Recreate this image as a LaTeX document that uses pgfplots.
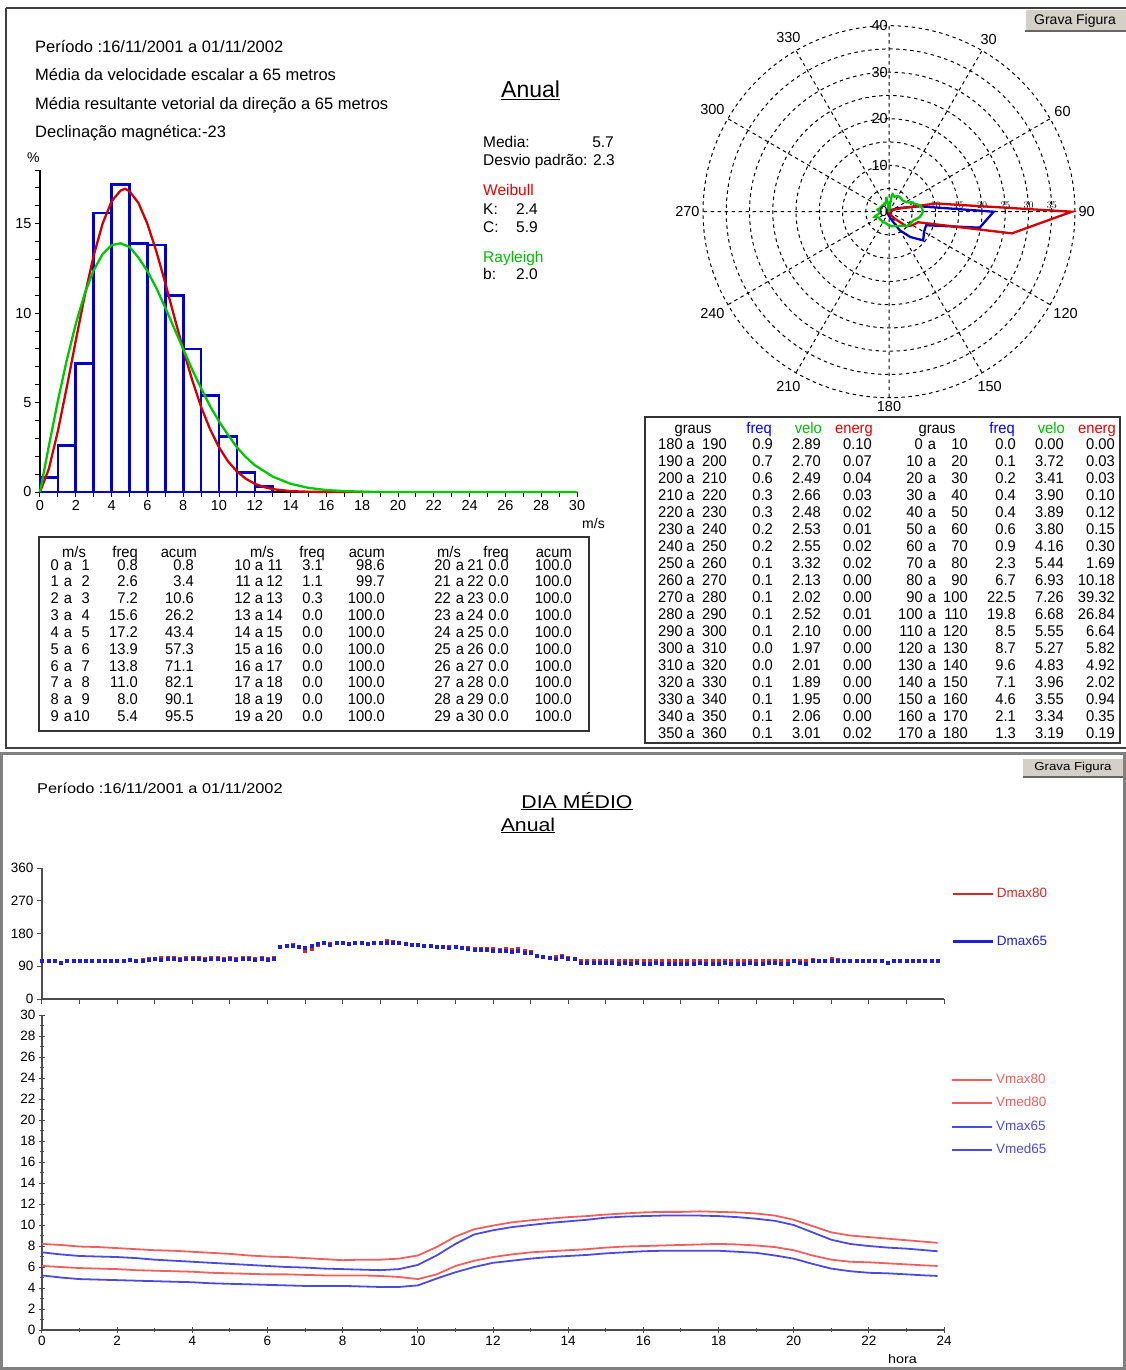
\documentclass[border=0pt]{standalone}
\usepackage{fontspec}
\setmainfont{Liberation Sans}
\newfontfamily\widefont[FakeStretch=1.15]{Liberation Sans}
\newfontfamily\tabfont[FakeStretch=0.95]{Liberation Sans}
\usepackage{pgfplots}
\usepackage{pgfplotstable}
\pgfplotsset{compat=1.18}
\usepgfplotslibrary{polar}

\definecolor{hblue}{RGB}{0,0,200}
\definecolor{hred}{RGB}{210,0,0}
\definecolor{hgreen}{RGB}{0,200,0}
\definecolor{tblue}{RGB}{0,0,255}
\definecolor{tgreen}{RGB}{0,190,0}
\definecolor{tred}{RGB}{235,0,0}
\definecolor{dred}{RGB}{215,40,40}
\definecolor{dblue}{RGB}{30,30,215}
\definecolor{lred}{RGB}{240,95,95}
\definecolor{lblue}{RGB}{75,75,225}
\definecolor{btn}{RGB}{212,208,200}

\newcommand{\fs}[1]{\fontsize{#1}{#1}\selectfont}

% direction of the day, every 10 minutes (Dmax80, Dmax65)
\pgfplotstableread[row sep=\\]{
d80 d65\\
106 106\\ 104 104\\ 106 106\\ 101 101\\ 106 106\\ 105 105\\
106 106\\ 106 106\\ 104 104\\ 106 106\\ 106 106\\ 105 105\\
106 106\\ 106 106\\ 108 108\\ 106 106\\ 108 106\\ 110 108\\
112 110\\ 114 108\\ 114 110\\ 114 110\\ 112 108\\ 114 110\\
114 110\\ 114 110\\ 112 108\\ 114 110\\ 114 110\\ 112 108\\
114 110\\ 112 108\\ 114 110\\ 114 110\\ 112 108\\ 114 110\\
112 108\\ 114 110\\ 145 145\\ 146 146\\ 148 146\\ 145 145\\
134 140\\ 138 146\\ 150 152\\ 155 155\\ 152 150\\ 154 154\\
155 155\\ 153 152\\ 156 155\\ 154 154\\ 153 152\\ 155 155\\
156 155\\ 160 156\\ 158 154\\ 156 156\\ 152 152\\ 150 150\\
148 148\\ 147 146\\ 146 146\\ 145 145\\ 144 144\\ 143 142\\
145 145\\ 141 140\\ 140 138\\ 138 136\\ 138 136\\ 137 135\\
138 134\\ 136 132\\ 138 134\\ 136 130\\ 138 134\\ 132 128\\
130 126\\ 120 118\\ 115 115\\ 114 114\\ 116 112\\ 118 116\\
114 112\\ 110 110\\ 106 100\\ 106 100\\ 106 100\\ 106 100\\
104 100\\ 106 100\\ 104 98\\ 106 100\\ 104 98\\ 106 100\\
104 98\\ 104 98\\ 106 100\\ 104 98\\ 104 98\\ 106 98\\
106 98\\ 104 98\\ 104 98\\ 106 100\\ 104 98\\ 104 98\\
104 98\\ 106 100\\ 104 98\\ 104 98\\ 106 98\\ 104 100\\
104 98\\ 104 98\\ 106 100\\ 106 100\\ 104 98\\ 104 98\\
106 104\\ 104 100\\ 104 98\\ 108 106\\ 106 106\\ 106 104\\
112 106\\ 108 106\\ 106 106\\ 106 104\\ 106 106\\ 106 106\\
106 106\\ 104 104\\ 106 106\\ 100 100\\ 106 106\\ 106 106\\
106 106\\ 106 106\\ 106 106\\ 106 106\\ 106 106\\ 106 106\\
}\dirtab

\begin{document}
\begin{tikzpicture}
\path[use as bounding box] (0pt,0pt) rectangle (1126pt,-1370pt);

\begin{scope}[x=1pt,y=-1pt]
% panels
\draw[black!75, line width=2pt] (6,8) -- (1130,8);
\draw[black!75, line width=2pt] (6,8) -- (6,748) -- (1130,748);
\draw[black!50, line width=3pt] (1.5,753.5) rectangle (1124.5,1368.5);
% buttons
\fill[btn] (1025,10) rectangle (1126,31);
\draw[white, line width=1pt] (1025,31) -- (1025,10) -- (1126,10);
\draw[black!60, line width=1.5pt] (1025,31) -- (1126,31);
\node[font=\fs{14}, inner sep=0pt] at (1075,20.5) {Grava Figura};
\fill[btn] (1023,759) rectangle (1123,777);
\draw[black!60, line width=1.5pt] (1023,777) -- (1123,777);
\node[font=\widefont\fs{11.5}, inner sep=0pt] at (1073,768) {Grava Figura};

% top left text
\begin{scope}[every node/.style={anchor=base west, inner sep=0pt, font=\fs{16.5}}]
\node at (35,53) {Período :16/11/2001 a 01/11/2002};
\node at (35,81) {Média da velocidade escalar a 65 metros};
\node at (35,110) {Média resultante vetorial da direção a 65 metros};
\node at (35,138) {Declinação magnética:-23};
\end{scope}
\node[anchor=base west, inner sep=0pt, font=\fs{14}] at (27,162) {\%};
\node[anchor=base west, inner sep=0pt, font=\fs{23}] at (501,98) {\underline{Anual}};
\begin{scope}[every node/.style={anchor=base west, inner sep=0pt, font=\fs{15.5}}]
\node at (483,147) {Media:};
\node[anchor=base east] at (614,147) {5.7};
\node at (483,165) {Desvio padrão: 2.3};
\node[text=tred] at (483,195.5) {Weibull};
\node at (483,214) {K:};
\node at (516,214) {2.4};
\node at (483,232) {C:};
\node at (516,232) {5.9};
\node[text=tgreen] at (483,262) {Rayleigh};
\node at (483,279) {b:};
\node at (516,279) {2.0};
\end{scope}
\node[anchor=base west, inner sep=0pt, font=\fs{14}] at (582,528) {m/s};

% speed table
\draw[black!80, line width=1.5pt] (39,537) rectangle (589,731);
\begin{scope}[every node/.style={inner sep=0pt, font=\tabfont\fs{15.5}}]
\foreach \mx/\fx/\ax in {74/138/197, 262/325/385, 449/509/572} {
  \node[anchor=base] at (\mx,557) {m/s};
  \node[anchor=base east] at (\fx,557) {freq};
  \node[anchor=base east] at (\ax,557) {acum};
}
\foreach \a/\b/\f/\c [count=\i from 0] in {0/1/0.8/0.8, 1/2/2.6/3.4, 2/3/7.2/10.6, 3/4/15.6/26.2, 4/5/17.2/43.4, 5/6/13.9/57.3, 6/7/13.8/71.1, 7/8/11.0/82.1, 8/9/8.0/90.1, 9/10/5.4/95.5} {
  \pgfmathsetmacro\yy{570+16.85*\i}
  \node[anchor=base east] at (59,\yy) {\a};
  \node[anchor=base] at (68,\yy) {a};
  \node[anchor=base east] at (90,\yy) {\b};
  \node[anchor=base east] at (138,\yy) {\f};
  \node[anchor=base east] at (194,\yy) {\c};
}
\foreach \a/\b/\f/\c [count=\i from 0] in {10/11/3.1/98.6, 11/12/1.1/99.7, 12/13/0.3/100.0, 13/14/0.0/100.0, 14/15/0.0/100.0, 15/16/0.0/100.0, 16/17/0.0/100.0, 17/18/0.0/100.0, 18/19/0.0/100.0, 19/20/0.0/100.0} {
  \pgfmathsetmacro\yy{570+16.85*\i}
  \node[anchor=base east] at (251,\yy) {\a};
  \node[anchor=base] at (259,\yy) {a};
  \node[anchor=base east] at (283,\yy) {\b};
  \node[anchor=base east] at (323,\yy) {\f};
  \node[anchor=base east] at (385,\yy) {\c};
}
\foreach \a/\b [count=\i from 0] in {20/21, 21/22, 22/23, 23/24, 24/25, 25/26, 26/27, 27/28, 28/29, 29/30} {
  \pgfmathsetmacro\yy{570+16.85*\i}
  \node[anchor=base east] at (451,\yy) {\a};
  \node[anchor=base] at (460,\yy) {a};
  \node[anchor=base east] at (484,\yy) {\b};
  \node[anchor=base east] at (509,\yy) {0.0};
  \node[anchor=base east] at (572,\yy) {100.0};
}
\end{scope}

% direction table
\draw[black!80, line width=2pt] (645,417.3) rectangle (1120,743.3);
\begin{scope}[every node/.style={inner sep=0pt, font=\tabfont\fs{15.5}}]
\foreach \gx/\fx/\vx/\ex in {693/772/822/873, 937/1015/1065/1116} {
  \node[anchor=base] at (\gx,433.5) {graus};
  \node[anchor=base east, text=tblue] at (\fx,433.5) {freq};
  \node[anchor=base east, text=tgreen] at (\vx,433.5) {velo};
  \node[anchor=base east, text=tred] at (\ex,433.5) {energ};
}
\foreach \a/\b/\f/\v/\e [count=\i from 0] in {180/190/0.9/2.89/0.10, 190/200/0.7/2.70/0.07, 200/210/0.6/2.49/0.04, 210/220/0.3/2.66/0.03, 220/230/0.3/2.48/0.02, 230/240/0.2/2.53/0.01, 240/250/0.2/2.55/0.02, 250/260/0.1/3.32/0.02, 260/270/0.1/2.13/0.00, 270/280/0.1/2.02/0.00, 280/290/0.1/2.52/0.01, 290/300/0.1/2.10/0.00, 300/310/0.0/1.97/0.00, 310/320/0.0/2.01/0.00, 320/330/0.1/1.89/0.00, 330/340/0.1/1.95/0.00, 340/350/0.1/2.06/0.00, 350/360/0.1/3.01/0.02} {
  \pgfmathsetmacro\yy{449.3+17.02*\i}
  \node[anchor=base east] at (683,\yy) {\a};
  \node[anchor=base] at (690.5,\yy) {a};
  \node[anchor=base east] at (727,\yy) {\b};
  \node[anchor=base east] at (773,\yy) {\f};
  \node[anchor=base east] at (821,\yy) {\v};
  \node[anchor=base east] at (872,\yy) {\e};
}
\foreach \a/\b/\f/\v/\e [count=\i from 0] in {0/10/0.0/0.00/0.00, 10/20/0.1/3.72/0.03, 20/30/0.2/3.41/0.03, 30/40/0.4/3.90/0.10, 40/50/0.4/3.89/0.12, 50/60/0.6/3.80/0.15, 60/70/0.9/4.16/0.30, 70/80/2.3/5.44/1.69, 80/90/6.7/6.93/10.18, 90/100/22.5/7.26/39.32, 100/110/19.8/6.68/26.84, 110/120/8.5/5.55/6.64, 120/130/8.7/5.27/5.82, 130/140/9.6/4.83/4.92, 140/150/7.1/3.96/2.02, 150/160/4.6/3.55/0.94, 160/170/2.1/3.34/0.35, 170/180/1.3/3.19/0.19} {
  \pgfmathsetmacro\yy{449.3+17.02*\i}
  \node[anchor=base east] at (923,\yy) {\a};
  \node[anchor=base] at (932,\yy) {a};
  \node[anchor=base east] at (968,\yy) {\b};
  \node[anchor=base east] at (1016,\yy) {\f};
  \node[anchor=base east] at (1064,\yy) {\v};
  \node[anchor=base east] at (1115,\yy) {\e};
}
\end{scope}

% bottom panel titles
\node[anchor=base west, inner sep=0pt, font=\widefont\fs{14.2}] at (37,793) {Período :16/11/2001 a 01/11/2002};
\node[anchor=base, inner sep=0pt, font=\widefont\fs{18.5}] at (577,808) {\underline{DIA MÉDIO}};
\node[anchor=base, inner sep=0pt, font=\widefont\fs{18.5}] at (528,831) {\underline{Anual}};
\node[anchor=base west, inner sep=0pt, font=\widefont\fs{12.5}] at (888,1363) {hora};
\end{scope}

% histogram
\begin{axis}[
  at={(40pt,-492pt)}, anchor=south west,
  scale only axis, width=537pt, height=322pt,
  xmin=0, xmax=30, ymin=0, ymax=18,
  axis x line=bottom, axis y line=left,
  axis line style={-, black, line width=1.2pt},
  xtick={0,2,...,30}, minor xtick={1,3,...,29},
  ytick={0,5,10,15}, minor ytick={1,2,3,4,6,7,8,9,11,12,13,14,16,17,18},
  tick align=outside, major tick length=5pt, minor tick length=5pt,
  tick style={black, line width=1pt},
  tick label style={font=\fs{14.5}},
  /pgf/number format/assume math mode=true,
  clip=false,
]
\addplot[ybar interval, draw=hblue, line width=2.6pt, fill=none] coordinates {(0,0.8) (1,2.6) (2,7.2) (3,15.6) (4,17.2) (5,13.9) (6,13.8) (7,11.0) (8,8.0) (9,5.4) (10,3.1) (11,1.1) (12,0.3) (13,0)};
\addplot[hred, line width=2.3pt] coordinates {(0,0) (0.5,1.31) (1,3.41) (1.5,5.88) (2,8.47) (2.5,10.98) (3,13.22) (3.5,15.01) (4,16.25) (4.5,16.85) (4.75,16.95) (5,16.81) (5.5,16.16) (6,14.99) (6.5,13.45) (7,11.68) (7.5,9.80) (8,7.97) (8.5,6.26) (9,4.76) (9.5,3.51) (10,2.50) (10.5,1.72) (11,1.15) (11.5,0.74) (12,0.46) (12.5,0.28) (13,0.16) (14,0.05) (15,0.013) (16,0.003) (18.4,0)};
\addplot[hgreen, line width=2.3pt] coordinates {(0,0) (0.5,2.6) (1,5.1) (1.5,7.4) (2,9.4) (2.5,11.1) (3,12.4) (3.5,13.3) (4,13.8) (4.5,13.9) (5,13.7) (5.5,13.1) (6,12.35) (6.5,11.4) (7,10.3) (7.5,9.15) (8,8.0) (8.5,6.85) (9,5.8) (9.5,4.8) (10,3.95) (10.5,3.2) (11,2.5) (11.5,1.95) (12,1.5) (13,0.86) (14,0.46) (15,0.23) (16,0.11) (17,0.05) (18,0.02) (19,0.005) (20,0) (30,0)};
\end{axis}

% wind rose
\begin{polaraxis}[
  at={(889pt,-211.7pt)}, anchor=center,
  scale only axis, width=372pt, height=372pt,
  xmin=0, xmax=360, ymin=0, ymax=40,
  xtick={0,30,...,330},
  xticklabels={90,60,30,{},330,300,270,240,210,180,150,120},
  ytick={5,10,...,35}, yticklabel={},
  grid=major,
  major grid style={black, dash pattern=on 3.5pt off 3.5pt, line width=1pt},
  axis line style={black, dash pattern=on 3.5pt off 3.5pt, line width=1pt},
  tick style={draw=none},
  xticklabel style={font=\fs{14.5}},
  clip=false,
]
\addplot[hblue, line width=2.3pt] table[x expr={90-\thisrowno{0}}, y index=1, row sep=\\] {0 0.0\\ 10 0.1\\ 20 0.2\\ 30 0.4\\ 40 0.4\\ 50 0.6\\ 60 0.9\\ 70 2.3\\ 80 6.7\\ 90 22.5\\ 100 19.8\\ 110 8.5\\ 120 8.7\\ 130 9.6\\ 140 7.1\\ 150 4.6\\ 160 2.1\\ 170 1.3\\ 180 0.9\\ 190 0.7\\ 200 0.6\\ 210 0.3\\ 220 0.3\\ 230 0.2\\ 240 0.2\\ 250 0.1\\ 260 0.1\\ 270 0.1\\ 280 0.1\\ 290 0.1\\ 300 0.0\\ 310 0.0\\ 320 0.1\\ 330 0.1\\ 340 0.1\\ 350 0.1\\ 360 0.0\\};
\addplot[hred, line width=2.3pt] table[x expr={90-\thisrowno{0}}, y index=1, row sep=\\] {0 0.00\\ 10 0.03\\ 20 0.03\\ 30 0.10\\ 40 0.12\\ 50 0.15\\ 60 0.30\\ 70 1.69\\ 80 10.18\\ 90 39.32\\ 100 26.84\\ 110 6.64\\ 120 5.82\\ 130 4.92\\ 140 2.02\\ 150 0.94\\ 160 0.35\\ 170 0.19\\ 180 0.10\\ 190 0.07\\ 200 0.04\\ 210 0.03\\ 220 0.02\\ 230 0.01\\ 240 0.02\\ 250 0.02\\ 260 0.00\\ 270 0.00\\ 280 0.01\\ 290 0.00\\ 300 0.00\\ 310 0.00\\ 320 0.00\\ 330 0.00\\ 340 0.00\\ 350 0.02\\ 360 0.00\\};
\addplot[hgreen, line width=2.3pt, smooth] table[x expr={90-\thisrowno{0}}, y index=1, row sep=\\] {0 0.00\\ 10 3.72\\ 20 3.41\\ 30 3.90\\ 40 3.89\\ 50 3.80\\ 60 4.16\\ 70 5.44\\ 80 6.93\\ 90 7.26\\ 100 6.68\\ 110 5.55\\ 120 5.27\\ 130 4.83\\ 140 3.96\\ 150 3.55\\ 160 3.34\\ 170 3.19\\ 180 2.89\\ 190 2.70\\ 200 2.49\\ 210 2.66\\ 220 2.48\\ 230 2.53\\ 240 2.55\\ 250 3.32\\ 260 2.13\\ 270 2.02\\ 280 2.52\\ 290 2.10\\ 300 1.97\\ 310 2.01\\ 320 1.89\\ 330 1.95\\ 340 2.06\\ 350 3.01\\ 360 0.00\\};
\node[anchor=east, inner sep=1pt, font=\fs{14.5}] at (axis cs:90,40) {40};
\node[anchor=east, inner sep=1pt, font=\fs{14.5}] at (axis cs:90,30) {30};
\node[anchor=east, inner sep=1pt, font=\fs{14.5}] at (axis cs:90,20) {20};
\node[anchor=east, inner sep=1pt, font=\fs{14.5}] at (axis cs:90,10) {10};
\node[anchor=east, inner sep=1pt, font=\fs{14.5}] at (axis cs:90,0) {0};
\end{polaraxis}

% mean day: direction
\begin{axis}[
  at={(42pt,-999pt)}, anchor=south west,
  scale only axis, width=902pt, height=131pt,
  xmin=0, xmax=24, ymin=0, ymax=360,
  axis x line=bottom, axis y line=left,
  axis line style={-, black!70, line width=1.6pt},
  xtick={0,1,...,24}, xticklabels={},
  ytick={0,90,180,270,360},
  tick align=outside, major tick length=5pt,
  tick style={black!70, line width=1pt},
  tick label style={font=\fs{13.5}},
  /pgf/number format/assume math mode=true,
  clip=false,
  legend style={at={(1.0078,0.619)}, anchor=west, draw=none, fill=none,
    inner sep=0pt, row sep=34.7pt, font=\fs{13.5},
    nodes={inner sep=0pt, text height=10pt, text depth=3pt}},
  legend cell align=left,
]
\addplot[only marks, mark=square*, mark size=1.5pt, color=dred,
  legend image code/.code={\draw[dred, line width=2.6pt] (0pt,0pt) -- (40pt,0pt);}]
  table[x expr=\coordindex/6, y=d80] {\dirtab};
\addlegendentry{\hspace{3pt}\textcolor{dred}{Dmax80}}
\addplot[only marks, mark=square*, mark size=1.5pt, color=dblue,
  legend image code/.code={\draw[dblue, line width=2.6pt] (0pt,0pt) -- (40pt,0pt);}]
  table[x expr=\coordindex/6, y=d65] {\dirtab};
\addlegendentry{\hspace{3pt}\textcolor{dblue}{Dmax65}}
\end{axis}

% mean day: speed
\begin{axis}[
  at={(42pt,-1330pt)}, anchor=south west,
  scale only axis, width=902pt, height=315pt,
  xmin=0, xmax=24, ymin=0, ymax=30,
  axis x line=bottom, axis y line=left,
  axis line style={-, black!70, line width=1.6pt},
  xtick={0,2,...,24}, minor xtick={1,3,...,23},
  ytick={0,2,...,30}, minor ytick={1,3,...,29},
  tick align=center, major tick length=6pt, minor tick length=4pt,
  tick style={black!70, line width=1pt},
  tick label style={font=\fs{13.5}},
  /pgf/number format/assume math mode=true,
  clip=false,
  legend style={at={(1.0078,0.6825)}, anchor=west, draw=none, fill=none,
    inner sep=0pt, row sep=10.3pt, font=\fs{13.5},
    nodes={inner sep=0pt, text height=10pt, text depth=3pt}},
  legend cell align=left,
]
\addplot[lred, line width=1.8pt,
  legend image code/.code={\draw[lred, line width=1.8pt] (0pt,0pt) -- (40pt,0pt);}]
  coordinates {(0,8.2) (0.5,8.1) (1,7.95) (1.5,7.9) (2,7.8) (2.5,7.7) (3,7.6) (3.5,7.55) (4,7.45) (4.5,7.35) (5,7.25) (5.5,7.1) (6,7.0) (6.5,6.95) (7,6.85) (7.5,6.75) (8,6.65) (8.5,6.7) (9,6.7) (9.5,6.8) (10,7.1) (10.5,7.9) (11,8.9) (11.5,9.6) (12,9.95) (12.5,10.25) (13,10.45) (13.5,10.6) (14,10.75) (14.5,10.85) (15,11.0) (15.5,11.1) (16,11.2) (16.5,11.25) (17,11.25) (17.5,11.3) (18,11.25) (18.5,11.2) (19,11.1) (19.5,10.9) (20,10.5) (20.5,9.9) (21,9.3) (21.5,9.0) (22,8.85) (22.5,8.7) (23,8.55) (23.5,8.4) (23.83,8.3)};
\addlegendentry{\hspace{3pt}\textcolor{lred}{Vmax80}}
\addplot[lred, line width=1.8pt,
  legend image code/.code={\draw[lred, line width=1.8pt] (0pt,0pt) -- (40pt,0pt);}]
  coordinates {(0,6.1) (0.5,6.0) (1,5.9) (1.5,5.85) (2,5.8) (2.5,5.7) (3,5.65) (3.5,5.6) (4,5.55) (4.5,5.45) (5,5.4) (5.5,5.35) (6,5.3) (6.5,5.3) (7,5.25) (7.5,5.2) (8,5.2) (8.5,5.2) (9,5.15) (9.5,5.05) (10,4.85) (10.5,5.3) (11,6.1) (11.5,6.6) (12,6.95) (12.5,7.2) (13,7.4) (13.5,7.5) (14,7.6) (14.5,7.7) (15,7.85) (15.5,7.95) (16,8.0) (16.5,8.05) (17,8.1) (17.5,8.15) (18,8.2) (18.5,8.15) (19,8.05) (19.5,7.9) (20,7.6) (20.5,7.1) (21,6.7) (21.5,6.5) (22,6.45) (22.5,6.35) (23,6.25) (23.5,6.15) (23.83,6.1)};
\addlegendentry{\hspace{3pt}\textcolor{lred}{Vmed80}}
\addplot[lblue, line width=1.8pt,
  legend image code/.code={\draw[lblue, line width=1.8pt] (0pt,0pt) -- (40pt,0pt);}]
  coordinates {(0,7.4) (0.5,7.2) (1,7.05) (1.5,7.0) (2,6.95) (2.5,6.85) (3,6.7) (3.5,6.6) (4,6.5) (4.5,6.4) (5,6.3) (5.5,6.2) (6,6.1) (6.5,6.0) (7,5.95) (7.5,5.85) (8,5.8) (8.5,5.75) (9,5.7) (9.5,5.8) (10,6.2) (10.5,7.1) (11,8.2) (11.5,9.1) (12,9.5) (12.5,9.8) (13,10.0) (13.5,10.2) (14,10.35) (14.5,10.5) (15,10.7) (15.5,10.8) (16,10.85) (16.5,10.9) (17,10.9) (17.5,10.9) (18,10.85) (18.5,10.75) (19,10.6) (19.5,10.4) (20,10.0) (20.5,9.3) (21,8.6) (21.5,8.2) (22,8.0) (22.5,7.85) (23,7.75) (23.5,7.6) (23.83,7.5)};
\addlegendentry{\hspace{3pt}\textcolor{lblue}{Vmax65}}
\addplot[lblue, line width=1.8pt,
  legend image code/.code={\draw[lblue, line width=1.8pt] (0pt,0pt) -- (40pt,0pt);}]
  coordinates {(0,5.2) (0.5,5.0) (1,4.85) (1.5,4.8) (2,4.75) (2.5,4.7) (3,4.65) (3.5,4.6) (4,4.55) (4.5,4.45) (5,4.4) (5.5,4.35) (6,4.3) (6.5,4.25) (7,4.2) (7.5,4.2) (8,4.2) (8.5,4.15) (9,4.1) (9.5,4.1) (10,4.25) (10.5,4.9) (11,5.5) (11.5,6.0) (12,6.4) (12.5,6.6) (13,6.8) (13.5,6.95) (14,7.05) (14.5,7.15) (15,7.3) (15.5,7.4) (16,7.5) (16.5,7.55) (17,7.55) (17.5,7.55) (18,7.55) (18.5,7.45) (19,7.35) (19.5,7.1) (20,6.8) (20.5,6.3) (21,5.85) (21.5,5.6) (22,5.45) (22.5,5.4) (23,5.3) (23.5,5.2) (23.83,5.15)};
\addlegendentry{\hspace{3pt}\textcolor{lblue}{Vmed65}}
\end{axis}
\end{tikzpicture}
\end{document}
